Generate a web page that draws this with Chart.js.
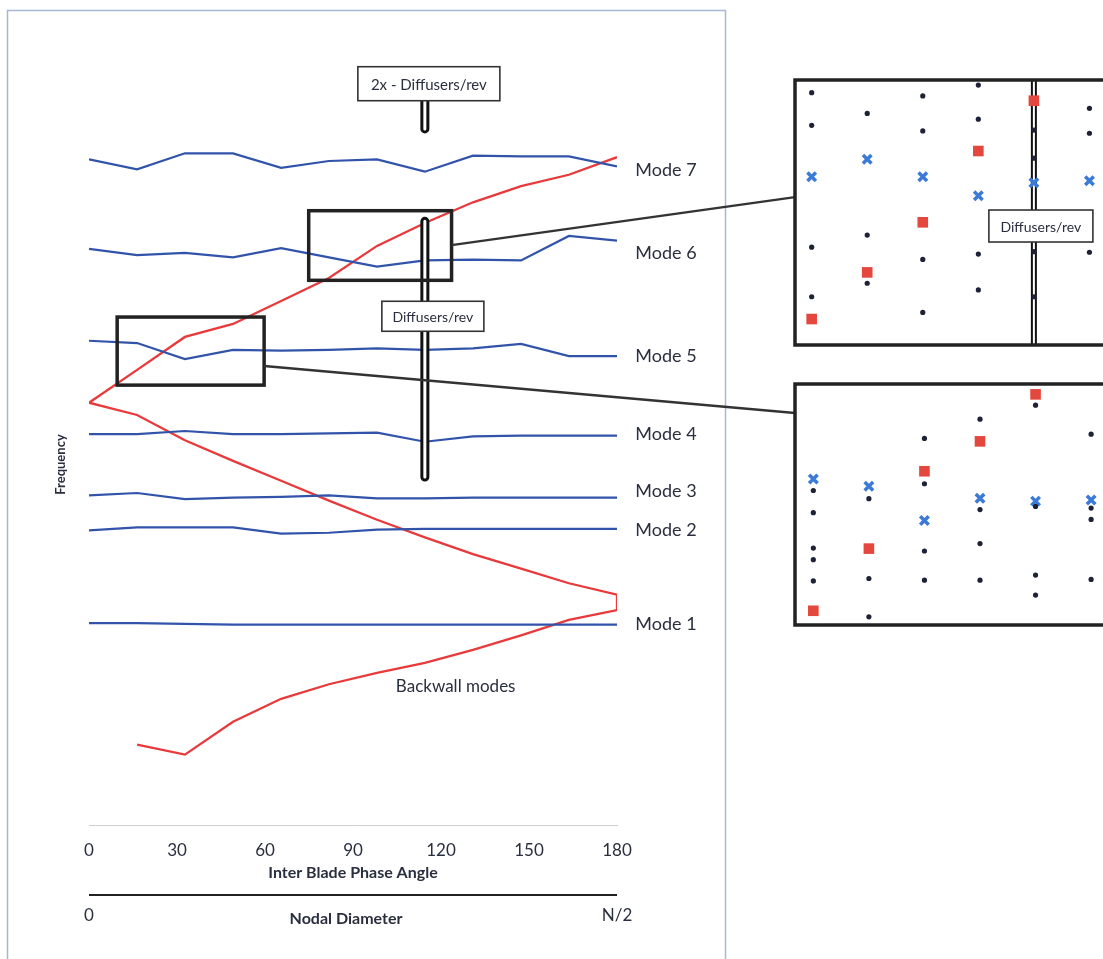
<!DOCTYPE html>
<html>
<head>
<meta charset="utf-8">
<script src="https://cdn.jsdelivr.net/npm/chart.js@4.4.1/dist/chart.umd.min.js"></script>
<style>
html, body { margin: 0; padding: 0; background: #fff; overflow: hidden; width: 1103px; height: 959px; }
#wrap { position: relative; width: 1103px; height: 959px; }
canvas { position: absolute; }
</style>
</head>
<body>
<div id="wrap">
  <canvas id="main" width="1103" height="959" style="left:0;top:0"></canvas>
  <canvas id="zoomTop" width="360" height="275" style="left:790px;top:75px"></canvas>
  <canvas id="zoomBottom" width="360" height="251" style="left:790px;top:379px"></canvas>
</div>
<script>
// inter blade phase angle for nodal diameters 0 .. N/2 (N = 22)
const phaseAngle = [0, 16.4, 32.7, 49.1, 65.5, 81.8, 98.2, 114.5, 130.9, 147.3, 163.6, 180];
const phaseTicks = [0, 30, 60, 90, 120, 150, 180];

// blade mode frequencies (arbitrary units)
const mode1 = [26.4, 26.4, 26.3, 26.2, 26.2, 26.2, 26.2, 26.2, 26.2, 26.2, 26.2, 26.2];
const mode2 = [38.5, 38.9, 38.9, 38.9, 38.1, 38.2, 38.6, 38.7, 38.7, 38.7, 38.7, 38.7];
const mode3 = [43.1, 43.4, 42.6, 42.8, 42.9, 43.1, 42.7, 42.7, 42.8, 42.8, 42.8, 42.8];
const mode4 = [51.1, 51.1, 51.5, 51.1, 51.1, 51.2, 51.3, 50.1, 50.8, 50.9, 50.9, 50.9];
const mode5 = [63.3, 63.0, 60.9, 62.1, 62.0, 62.1, 62.3, 62.1, 62.3, 62.9, 61.3, 61.3];
const mode6 = [75.3, 74.5, 74.8, 74.2, 75.4, 74.2, 73.0, 73.8, 73.9, 73.8, 77.0, 76.4];
const mode7 = [87.0, 85.7, 87.8, 87.8, 85.9, 86.8, 87.0, 85.4, 87.5, 87.4, 87.4, 86.1];
const modeNames = ['Mode 1', 'Mode 2', 'Mode 3', 'Mode 4', 'Mode 5', 'Mode 6', 'Mode 7'];
const modeLabelFreq = [26.3, 38.6, 43.7, 51.1, 61.3, 74.8, 85.6];

// backwall modes, traced as one zig-zag path
const backwallPhase = [16.4, 32.7, 49.1, 65.5, 81.8, 98.2, 114.5, 130.9, 147.3, 163.6, 180,
                       180, 163.6, 147.3, 130.9, 114.5, 98.2, 81.8, 65.5, 49.1, 32.7, 16.4, 0,
                       16.4, 32.7, 49.1, 65.5, 81.8, 98.2, 114.5, 130.9, 147.3, 163.6, 180];
const backwallFreq = [10.5, 9.2, 13.5, 16.5, 18.4, 19.9, 21.2, 22.9, 24.8, 26.8, 28.1,
                      30.1, 31.6, 33.5, 35.4, 37.6, 39.9, 42.4, 45.0, 47.6, 50.3, 53.6, 55.2,
                      59.5, 63.8, 65.5, 68.5, 71.5, 75.7, 78.7, 81.4, 83.5, 85.0, 87.3];

const diffuserPhase = 114.5;

// zoomed detail, upper panel (column index, relative frequency)
const topDotCol = [1, 1, 1, 1, 2, 2, 2, 3, 3, 3, 3, 4, 4, 4, 4, 5, 5, 5, 5, 6, 6, 6];
const topDotFreq = [95.2, 82.9, 36.9, 18.2, 87.4, 41.5, 23.3, 94.0, 80.8, 32.3, 12.3,
                    98.1, 85.2, 34.3, 20.8, 81.1, 70.5, 35.2, 18.2, 89.3, 79.9, 35.0];
const topCrossCol = [1, 2, 3, 4, 5, 6];
const topCrossFreq = [63.5, 70.1, 63.5, 56.3, 61.2, 62.0];
const topSquareCol = [1, 2, 3, 4, 5];
const topSquareFreq = [9.8, 27.4, 46.3, 73.2, 92.2];

// zoomed detail, lower panel
const botDotCol = [1, 1, 1, 1, 1, 2, 2, 2, 3, 3, 3, 3, 4, 4, 4, 4, 5, 5, 5, 5, 6, 6, 6, 6];
const botDotFreq = [55.8, 46.6, 31.9, 27.1, 18.3, 52.4, 19.3, 3.4, 77.4, 58.6, 30.7, 18.6,
                    85.4, 47.9, 33.8, 18.6, 91.2, 49.2, 20.7, 12.4, 79.2, 48.5, 43.8, 18.9];
const botCrossCol = [1, 2, 3, 4, 5, 6];
const botCrossFreq = [60.6, 57.6, 43.4, 52.6, 51.4, 51.9];
const botSquareCol = [1, 2, 3, 4, 5];
const botSquareFreq = [5.9, 31.7, 63.8, 76.2, 95.7];

const FONT = 'Lato, "Open Sans", sans-serif';
const BLUE = '#3154aa';
const RED = '#e8393b';
const DOT = '#1d2236';
const TEXT = '#2a2f3f';

function pts(xs, ys) {
    return xs.map((x, i) => ({ x: x, y: ys[i] }));
}

function drawBar(ctx, x, y1, y2, w, lw, r) {
    ctx.save();
    ctx.beginPath();
    ctx.roundRect(x - w / 2, y1, w, y2 - y1, r);
    ctx.fillStyle = '#fff';
    ctx.fill();
    ctx.lineWidth = lw;
    ctx.strokeStyle = '#111';
    ctx.stroke();
    ctx.restore();
}

function drawLabelBox(ctx, cx, cy, w, h, text, size) {
    ctx.save();
    ctx.fillStyle = '#fff';
    ctx.fillRect(cx - w / 2, cy - h / 2, w, h);
    ctx.lineWidth = 1.6;
    ctx.strokeStyle = '#333';
    ctx.strokeRect(cx - w / 2, cy - h / 2, w, h);
    ctx.fillStyle = TEXT;
    ctx.font = size + 'px ' + FONT;
    ctx.textAlign = 'center';
    ctx.textBaseline = 'middle';
    ctx.fillText(text, cx, cy + 1);
    ctx.restore();
}

function zoomChart(id, xMin, xMax, dots, crosses, squares, withBar) {
    return new Chart(document.getElementById(id), {
        type: 'scatter',
        data: {
            datasets: [
                { data: dots, pointRadius: 2.6, backgroundColor: DOT, borderWidth: 0 },
                { data: squares, pointStyle: 'rect', pointRadius: 7.5, backgroundColor: '#e4473d', borderWidth: 0 },
                { data: crosses, pointStyle: 'crossRot', pointRadius: 6, borderColor: '#3b7ad6', borderWidth: 3.5 }
            ]
        },
        options: {
            responsive: false,
            animation: false,
            layout: { padding: 5, autoPadding: false },
            plugins: { legend: { display: false }, tooltip: { enabled: false } },
            scales: {
                x: { type: 'linear', min: xMin, max: xMax, display: false },
                y: { min: 0, max: 100, display: false }
            },
            clip: false
        },
        plugins: [{
            id: 'frame',
            beforeDatasetsDraw(chart) {
                if (!withBar) return;
                const a = chart.chartArea;
                drawBar(chart.ctx, chart.scales.x.getPixelForValue(5), a.top, a.bottom, 4, 2, 0);
            },
            afterDraw(chart) {
                const { ctx, chartArea: a } = chart;
                if (withBar) {
                    const bx = chart.scales.x.getPixelForValue(5);
                    drawLabelBox(ctx, bx + 7, chart.scales.y.getPixelForValue(44.9), 104, 32, 'Diffusers/rev', 14);
                }
                ctx.save();
                ctx.lineWidth = 3.5;
                ctx.strokeStyle = '#222';
                ctx.strokeRect(a.left, a.top, a.right - a.left, a.bottom - a.top);
                ctx.restore();
            }
        }]
    });
}

const zoomTop = zoomChart('zoomTop', 0.7, 7.0,
    pts(topDotCol, topDotFreq), pts(topCrossCol, topCrossFreq), pts(topSquareCol, topSquareFreq), true);
const zoomBottom = zoomChart('zoomBottom', 0.67, 6.97,
    pts(botDotCol, botDotFreq), pts(botCrossCol, botCrossFreq), pts(botSquareCol, botSquareFreq), false);

// detail rectangles on the main plot and where their leader lines land
const zoomBoxes = [
    { x0: 74.9, x1: 123.6, y0: 71.2, y1: 80.3, fromY: 75.8, target: zoomTop, toY: 55.8 },
    { x0: 9.6, x1: 59.7, y0: 57.5, y1: 66.4, fromY: 60.0, target: zoomBottom, toY: 88.0 }
];

const decor = {
    id: 'decor',
    afterDraw(chart) {
        const { ctx, chartArea: a } = chart;
        const xs = chart.scales.x, ys = chart.scales.y;
        const px = v => xs.getPixelForValue(v);
        const py = v => ys.getPixelForValue(v);
        ctx.save();

        // outer frame
        ctx.strokeStyle = '#a8b6d3';
        ctx.lineWidth = 1.5;
        ctx.strokeRect(7.5, 10.5, 718, 1000);

        // diffusers/rev marker
        const dx = px(diffuserPhase);
        drawBar(ctx, dx, py(90.6), py(96), 6, 3, 3);
        drawLabelBox(ctx, dx + 4, py(96.9), 142, 34, '2x - Diffusers/rev', 15);
        drawBar(ctx, dx, py(79.3), py(45.1), 6, 3, 3);
        drawLabelBox(ctx, dx + 8, py(66.5), 102, 30, 'Diffusers/rev', 14);

        // detail rectangles and leader lines
        zoomBoxes.forEach(b => {
            ctx.lineWidth = 3.5;
            ctx.strokeStyle = '#222';
            ctx.strokeRect(px(b.x0), py(b.y1), px(b.x1) - px(b.x0), py(b.y0) - py(b.y1));
            const t = b.target;
            const tx = t.canvas.offsetLeft + t.chartArea.left;
            const ty = t.canvas.offsetTop + t.scales.y.getPixelForValue(b.toY);
            ctx.lineWidth = 2.5;
            ctx.strokeStyle = '#333';
            ctx.beginPath();
            ctx.moveTo(px(b.x1), py(b.fromY));
            ctx.lineTo(tx, ty);
            ctx.stroke();
        });

        // mode labels
        ctx.fillStyle = TEXT;
        ctx.font = '18px ' + FONT;
        ctx.textAlign = 'center';
        ctx.textBaseline = 'middle';
        modeNames.forEach((m, i) => ctx.fillText(m, a.right + 49, py(modeLabelFreq[i])));
        ctx.font = '17px ' + FONT;
        ctx.fillText('Backwall modes', px(125), py(18.1));

        // axis titles
        ctx.font = 'bold 16px ' + FONT;
        ctx.fillText('Inter Blade Phase Angle', (a.left + a.right) / 2, a.bottom + 48);
        ctx.fillText('Nodal Diameter', (a.left + a.right) / 2 - 7, a.bottom + 94);
        ctx.font = '17px ' + FONT;
        ctx.fillText('0', a.left, a.bottom + 91);
        ctx.fillText('N/2', a.right, a.bottom + 91);
        ctx.strokeStyle = '#222';
        ctx.lineWidth = 2;
        ctx.beginPath();
        ctx.moveTo(a.left, a.bottom + 70);
        ctx.lineTo(a.right, a.bottom + 70);
        ctx.stroke();

        ctx.translate(61, (a.top + a.bottom) / 2 + 22);
        ctx.rotate(-Math.PI / 2);
        ctx.font = 'bold 13px ' + FONT;
        ctx.fillText('Frequency', 0, 0);
        ctx.restore();
    }
};

const modeSets = [mode1, mode2, mode3, mode4, mode5, mode6, mode7].map(m => ({
    data: pts(phaseAngle, m),
    showLine: true,
    borderColor: BLUE,
    borderWidth: 2.2,
    pointRadius: 0,
    tension: 0
}));

new Chart(document.getElementById('main'), {
    type: 'scatter',
    data: {
        datasets: modeSets.concat([{
            data: pts(backwallPhase, backwallFreq),
            showLine: true,
            borderColor: RED,
            borderWidth: 2.3,
            pointRadius: 0,
            tension: 0
        }])
    },
    options: {
        responsive: false,
        animation: false,
        layout: { padding: { left: 89, right: 1103 - 617, top: 60, bottom: 0 }, autoPadding: false },
        plugins: { legend: { display: false }, tooltip: { enabled: false } },
        scales: {
            x: {
                type: 'linear',
                min: 0,
                max: 180,
                afterFit: s => { s.height = 134; },
                afterBuildTicks: s => { s.ticks = phaseTicks.map(v => ({ value: v })); },
                grid: { display: false, drawTicks: false },
                border: { display: true, color: '#cfcfcf', dash: [2, 3], width: 1 },
                ticks: { padding: 15, color: TEXT, font: { family: FONT, size: 17 } }
            },
            y: { min: 0, max: 100, display: false }
        }
    },
    plugins: [decor]
});
</script>
</body>
</html>
